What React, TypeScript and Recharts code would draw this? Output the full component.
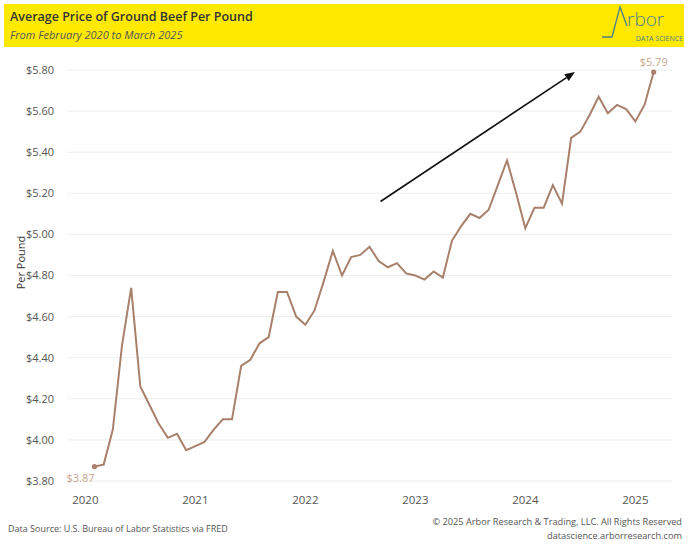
import React from 'react';
import { LineChart, Line, XAxis, YAxis, CartesianGrid, ReferenceLine } from 'recharts';

// Month labels (Feb 2020 – Mar 2025)
const monthLabels = [
  'Feb 2020', 'Mar 2020', 'Apr 2020', 'May 2020', 'Jun 2020', 'Jul 2020', 'Aug 2020', 'Sep 2020', 'Oct 2020', 'Nov 2020', 'Dec 2020',
  'Jan 2021', 'Feb 2021', 'Mar 2021', 'Apr 2021', 'May 2021', 'Jun 2021', 'Jul 2021', 'Aug 2021', 'Sep 2021', 'Oct 2021', 'Nov 2021', 'Dec 2021',
  'Jan 2022', 'Feb 2022', 'Mar 2022', 'Apr 2022', 'May 2022', 'Jun 2022', 'Jul 2022', 'Aug 2022', 'Sep 2022', 'Oct 2022', 'Nov 2022', 'Dec 2022',
  'Jan 2023', 'Feb 2023', 'Mar 2023', 'Apr 2023', 'May 2023', 'Jun 2023', 'Jul 2023', 'Aug 2023', 'Sep 2023', 'Oct 2023', 'Nov 2023', 'Dec 2023',
  'Jan 2024', 'Feb 2024', 'Mar 2024', 'Apr 2024', 'May 2024', 'Jun 2024', 'Jul 2024', 'Aug 2024', 'Sep 2024', 'Oct 2024', 'Nov 2024', 'Dec 2024',
  'Jan 2025', 'Feb 2025', 'Mar 2025',
];

// Average price of ground beef per pound (USD)
const prices = [
  3.87, 3.88, 4.05, 4.46, 4.74, 4.26, 4.17, 4.08, 4.01, 4.03, 3.95,
  3.97, 3.99, 4.05, 4.10, 4.10, 4.36, 4.39, 4.47, 4.50, 4.72, 4.72, 4.60,
  4.56, 4.63, 4.77, 4.92, 4.80, 4.89, 4.90, 4.94, 4.87, 4.84, 4.86, 4.81,
  4.80, 4.78, 4.82, 4.79, 4.97, 5.04, 5.10, 5.08, 5.12, 5.24, 5.36, 5.20,
  5.03, 5.13, 5.13, 5.24, 5.15, 5.47, 5.50, 5.58, 5.67, 5.59, 5.63, 5.61,
  5.55, 5.63, 5.79,
];

// x positions are months since Jan 2020 (first data month is Feb 2020)
const firstMonthOffset = 1;
const yearTicks = [0, 12, 24, 36, 48, 60];
const yearLabels = ['2020', '2021', '2022', '2023', '2024', '2025'];
const priceTicks = [3.8, 4.0, 4.2, 4.4, 4.6, 4.8, 5.0, 5.2, 5.4, 5.6, 5.8];

// trend arrow annotation (months since Jan 2020, price)
const arrowStart = { x: 32.2, y: 5.16 };
const arrowEnd = { x: 53.4, y: 5.79 };

const data = prices.map((p, i) => ({ month: monthLabels[i], m: i + firstMonthOffset, price: p }));

const LINE = '#A8806B';
const LABEL = '#C6A690';
const FONT = '"Open Sans", "Noto Sans", sans-serif';

const EndDot = (props: any) => {
  const { cx, cy, index, value } = props;
  const last = data.length - 1;
  if (index !== 0 && index !== last) return <g key={`d${index}`} />;
  const txt = `$${Number(value).toFixed(2)}`;
  return (
    <g key={`d${index}`}>
      <circle cx={cx} cy={cy} r={2.6} fill={LINE} />
      {index === 0 ? (
        <text x={cx - 14} y={cy + 11} textAnchor="middle" dominantBaseline="central" fontSize={11} fill={LABEL} fontFamily={FONT}>
          {txt}
        </text>
      ) : (
        <text x={cx} y={cy - 11} textAnchor="middle" dominantBaseline="central" fontSize={11} fill={LABEL} fontFamily={FONT}>
          {txt}
        </text>
      )}
    </g>
  );
};

const ArrowShape = (props: any) => {
  const { x1, y1, x2, y2 } = props;
  const ang = Math.atan2(y2 - y1, x2 - x1);
  const len = 10;
  const half = 4;
  const bx = x2 - len * Math.cos(ang);
  const by = y2 - len * Math.sin(ang);
  const px = -Math.sin(ang) * half;
  const py = Math.cos(ang) * half;
  return (
    <g>
      <line x1={x1} y1={y1} x2={bx} y2={by} stroke="#111" strokeWidth={1.6} />
      <polygon points={`${x2},${y2} ${bx + px},${by + py} ${bx - px},${by - py}`} fill="#111" />
    </g>
  );
};

const YTitle = (props: any) => {
  const vb = props.viewBox || {};
  const cx = 20;
  const cy = vb.y + vb.height / 2 - 13;
  return (
    <text x={cx} y={cy} transform={`rotate(-90, ${cx}, ${cy})`} textAnchor="middle" dominantBaseline="central" fontSize={11} fill="#333" fontFamily={FONT}>
      Per Pound
    </text>
  );
};

export default function App() {
  return (
    <div style={{ position: 'absolute', left: 0, top: 0, width: 688, height: 547, background: '#fff', fontFamily: FONT, overflow: 'hidden' }}>
      {/* Header band */}
      <div style={{ position: 'absolute', left: 4, top: 4, width: 680, height: 43, background: '#FFE900' }}>
        <div style={{ position: 'absolute', left: 6, top: 4, fontSize: 12.5, fontWeight: 600, color: '#333', whiteSpace: 'nowrap' }}>
          Average Price of Ground Beef Per Pound
        </div>
        <div style={{ position: 'absolute', left: 6, top: 23, fontSize: 11, fontStyle: 'italic', color: '#555', whiteSpace: 'nowrap' }}>
          From February 2020 to March 2025
        </div>
        <svg style={{ position: 'absolute', left: 590, top: 0 }} width={90} height={43}>
          <polyline points="8,33 18,33 26,3 33,22" fill="none" stroke="#4E7F8E" strokeWidth={1.3} />
          <text x={33} y={22} fontSize={19} fill="#4E7F8E" fontFamily={FONT} fontWeight={300}>rbor</text>
          <text x={89} y={37} fontSize={7} fill="#4E7F8E" fontFamily={FONT} textAnchor="end">DATA SCIENCE</text>
        </svg>
      </div>

      <div style={{ position: 'absolute', left: 0, top: 0 }}>
        <LineChart width={688} height={547} data={data} margin={{ top: 70, right: 16, bottom: 46, left: 7 }}>
          <CartesianGrid vertical={false} stroke="#eeeeee" />
          <XAxis
            type="number"
            dataKey="m"
            domain={[-2, 64]}
            ticks={yearTicks}
            tickFormatter={(v: number) => yearLabels[yearTicks.indexOf(v)] ?? ''}
            axisLine={false}
            tickLine={false}
            tickSize={0}
            tickMargin={15}
            height={20}
            tick={{ fontSize: 11.5, fill: '#555', fontFamily: FONT }}
          />
          <YAxis
            type="number"
            domain={[3.8, 5.8]}
            ticks={priceTicks}
            tickFormatter={(v: number) => `$${v.toFixed(2)}`}
            axisLine={false}
            tickLine={false}
            tickSize={0}
            tickMargin={13}
            width={60}
            tick={{ fontSize: 11, fill: '#555', fontFamily: FONT }}
            label={<YTitle />}
          />
          <ReferenceLine segment={[arrowStart, arrowEnd]} shape={<ArrowShape />} ifOverflow="visible" />
          <Line
            type="linear"
            dataKey="price"
            stroke={LINE}
            strokeWidth={2}
            dot={<EndDot />}
            activeDot={false}
            isAnimationActive={false}
          />
        </LineChart>
      </div>

      {/* Footer */}
      <div style={{ position: 'absolute', left: 8, top: 522, fontSize: 9, color: '#555', whiteSpace: 'nowrap' }}>
        Data Source: U.S. Bureau of Labor Statistics via FRED
      </div>
      <div style={{ position: 'absolute', right: 6, top: 515, fontSize: 9.2, color: '#555', whiteSpace: 'nowrap', textAlign: 'right', lineHeight: '14px' }}>
        © 2025 Arbor Research &amp; Trading, LLC. All Rights Reserved
        <br />
        datascience.arborresearch.com
      </div>
    </div>
  );
}
